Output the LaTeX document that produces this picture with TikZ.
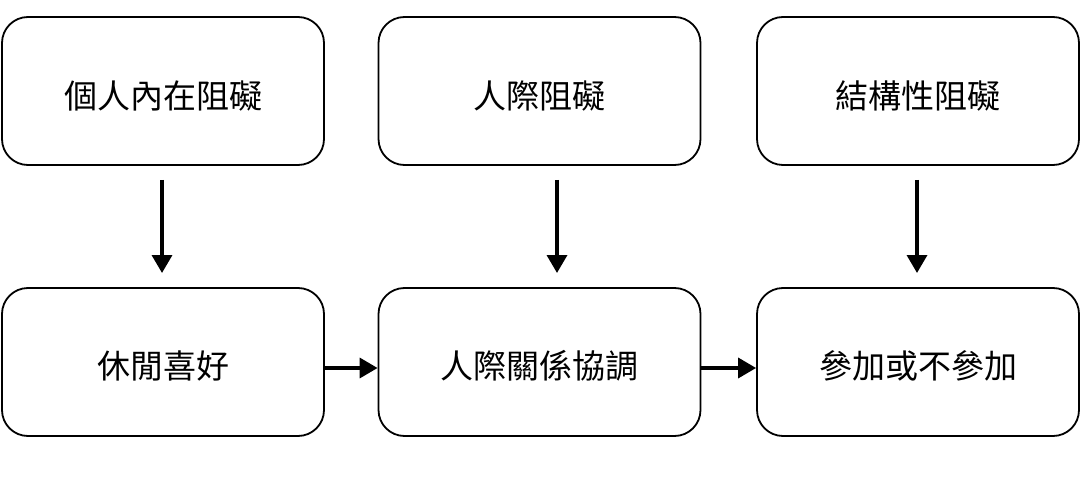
\documentclass[tikz,border=0pt]{standalone}
\usepackage{fontspec}
\newfontfamily\cjk{Noto Sans CJK TC}
\usetikzlibrary{arrows.meta}
\begin{document}
\begin{tikzpicture}[x=1pt,y=-1pt,
  box/.style={draw, line width=1.8pt, rounded corners=26pt, minimum width=322pt, minimum height=148pt, inner sep=0pt},
  lbl/.style={font=\cjk\fontsize{33}{36}\selectfont},
  arr/.style={line width=3.5pt, -{Triangle[length=18pt,width=20pt]}}]
\useasboundingbox (0,0) rectangle (1083,489);
\node[box] (a) at (163,91) {};
\node[box] (b) at (539.5,91) {};
\node[box] (c) at (918,91) {};
\node[box] (d) at (163,362) {};
\node[box] (e) at (539.5,362) {};
\node[box] (f) at (918,362) {};
\node[lbl] (ta) at ([yshift=-5pt]a.center) {個人內在阻礙};
\node[lbl] (tb) at ([yshift=-5pt]b.center) {人際阻礙};
\node[lbl] (tc) at ([yshift=-5pt]c.center) {結構性阻礙};
\node[lbl] (td) at ([yshift=-4pt]d.center) {休閒喜好};
\node[lbl] (te) at ([yshift=-4pt]e.center) {人際關係協調};
\node[lbl] (tf) at ([yshift=-4pt]f.center) {參加或不參加};
\coordinate (a1) at (162,180); \coordinate (a2) at (162,273);
\coordinate (b1) at (557,180); \coordinate (b2) at (557,273);
\coordinate (c1) at (917,180); \coordinate (c2) at (917,273);
\draw[arr] (a1) -- (a2);
\draw[arr] (b1) -- (b2);
\draw[arr] (c1) -- (c2);
\draw[arr] (d.east |- 0,368) -- (e.west |- 0,368);
\draw[arr] (e.east |- 0,368) -- (f.west |- 0,368);
\end{tikzpicture}
\end{document}
